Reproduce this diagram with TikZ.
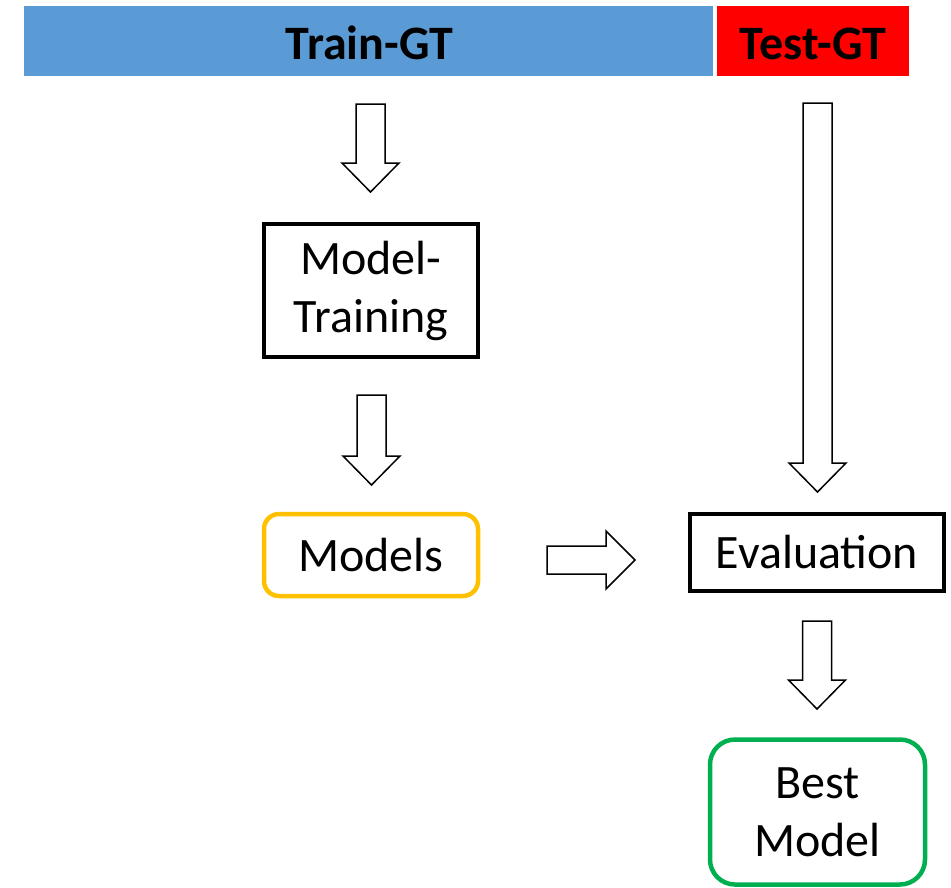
\documentclass[tikz,border=0pt]{standalone}
\usepackage{fontspec}
\setmainfont{Carlito}
\usetikzlibrary{calc}
\definecolor{trainblue}{HTML}{5B9BD5}
\definecolor{testred}{HTML}{FF0000}
\definecolor{modelorange}{HTML}{FFC000}
\definecolor{bestgreen}{HTML}{00B050}

% hollow block arrow pointing down, from start (#1) to tip (#2)
\newcommand{\blockdown}[2]{%
  \draw[blockarrow] ($(#1)+(-14.5,0)$) -- ($(#2)+(-14.5,-29)$) -- ($(#2)+(-28.5,-29)$)
    -- (#2) -- ($(#2)+(28.5,-29)$) -- ($(#2)+(14.5,-29)$) -- ($(#1)+(14.5,0)$) -- cycle;}
% hollow block arrow pointing right, from start (#1) to tip (#2)
\newcommand{\blockright}[2]{%
  \draw[blockarrow] ($(#1)+(0,-14)$) -- ($(#2)+(-29,-14)$) -- ($(#2)+(-29,-29)$)
    -- (#2) -- ($(#2)+(-29,29)$) -- ($(#2)+(-29,14)$) -- ($(#1)+(0,14)$) -- cycle;}

\begin{document}
\begin{tikzpicture}[x=1pt,y=-1pt,
  every node/.style={font=\fontsize{48}{58}\selectfont, inner sep=0pt, align=center},
  bar/.style={minimum height=70pt},
  barlabel/.style={anchor=base, font=\fontsize{48}{58}\selectfont\bfseries},
  plainbox/.style={draw=black, line width=4pt, fill=white},
  roundbox/.style={line width=4.5pt, fill=white, rounded corners=#1},
  blockarrow/.style={draw=black, line width=1.5pt, fill=white, line join=miter}]
\useasboundingbox (0,0) rectangle (951,887);

% header bars
\node[bar, fill=trainblue, minimum width=689pt] (train) at (368.5,41) {};
\node[bar, fill=testred, minimum width=192pt] (test) at (813,41) {};
\node[barlabel] (trainlbl) at (369.5,59) {Train-GT};
\node[barlabel] (testlbl) at (813,59) {Test-GT};

% process boxes
\node[plainbox, minimum width=214pt, minimum height=133pt] (mt) at (371,290.5) {Model-\\Training};
\node[roundbox=15pt, draw=modelorange, minimum width=214pt, minimum height=82pt] (models) at (371,555) {Models};
\node[plainbox, minimum width=254pt, minimum height=77pt] (eval) at (817,552.5) {Evaluation};
\node[roundbox=25pt, draw=bestgreen, minimum width=215pt, minimum height=145pt] (best) at (817.5,812) {Best\\Model};

% arrow end points
\coordinate (a1s) at (370.5,104);  \coordinate (a1e) at (370.5,192);
\coordinate (a2s) at (371.5,395);  \coordinate (a2e) at (371.5,485);
\coordinate (a3s) at (547,560);    \coordinate (a3e) at (635,560);
\coordinate (a4s) at (817.5,103);  \coordinate (a4e) at (817.5,492);
\coordinate (a5s) at (817,621);    \coordinate (a5e) at (817,709);

\blockdown{a1s}{a1e}
\blockdown{a2s}{a2e}
\blockright{a3s}{a3e}
\blockdown{a4s}{a4e}
\blockdown{a5s}{a5e}
\end{tikzpicture}
\end{document}
